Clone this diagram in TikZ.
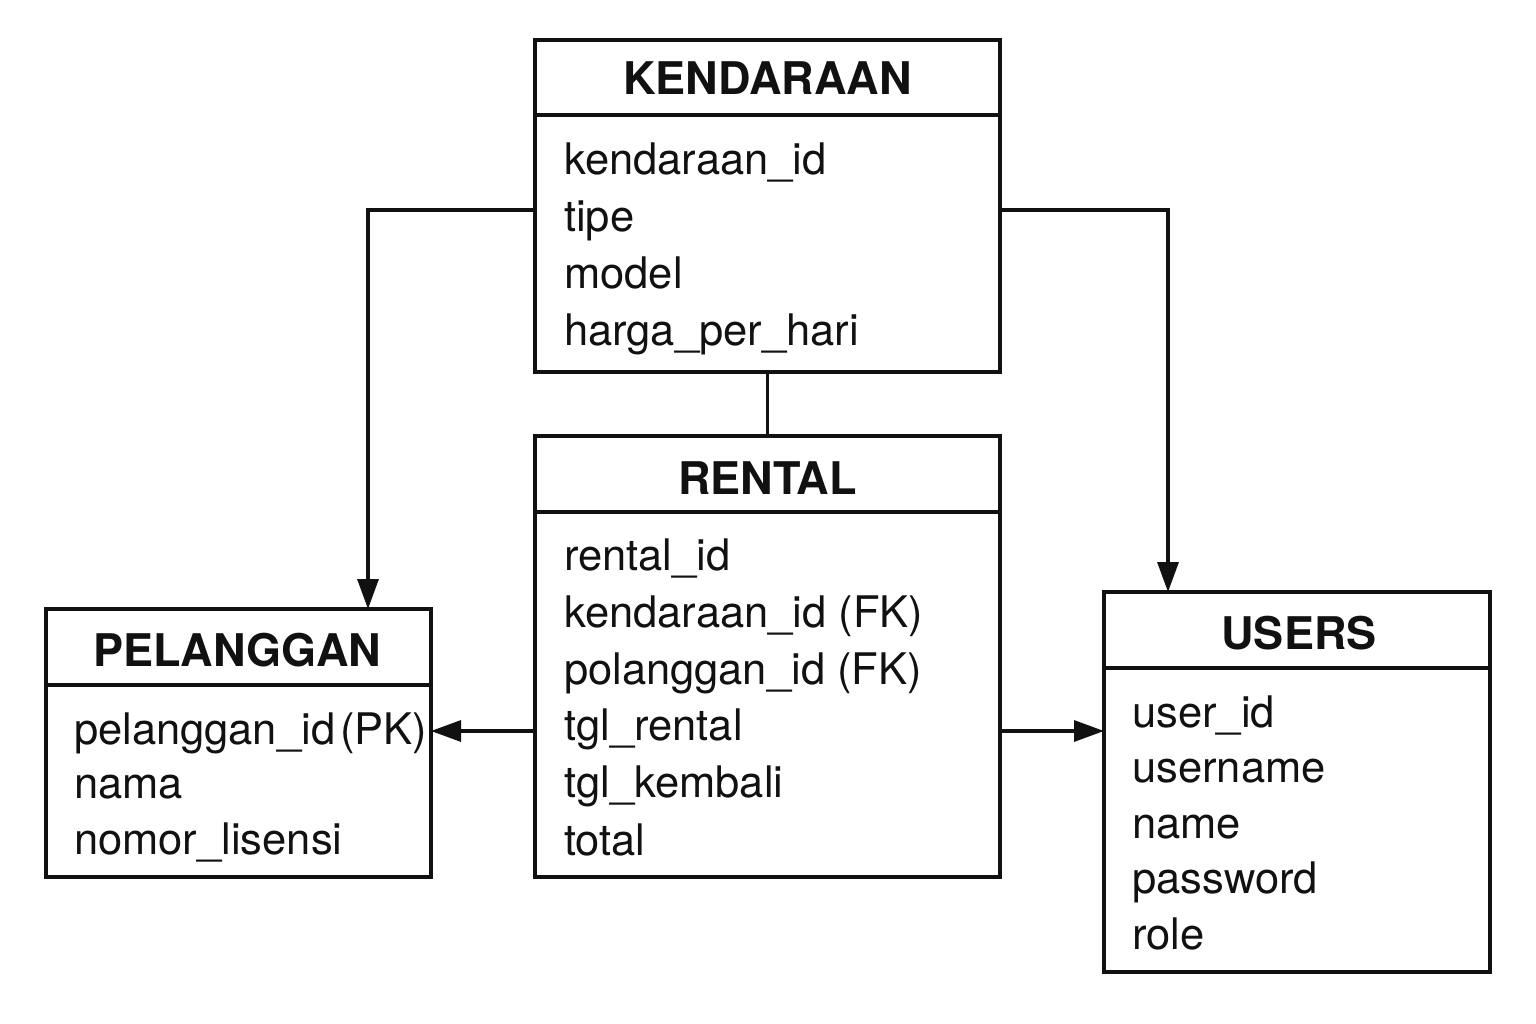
\documentclass[tikz,border=0pt]{standalone}
\usepackage{fontspec}
\setmainfont{TeX Gyre Heros}
\usetikzlibrary{arrows.meta}
\definecolor{ink}{HTML}{111111}
\begin{document}
\begin{tikzpicture}[x=1pt,y=-1pt,
  tbl/.style={draw=ink,line width=3.2pt,minimum width=#1,inner sep=0pt,outer sep=0pt,anchor=north west},
  ttl/.style={font=\fontsize{45}{50}\selectfont\bfseries,text=ink,anchor=base,inner sep=0pt},
  att/.style={font=\fontsize{43.5}{50}\selectfont,text=ink,anchor=base west,inner sep=0pt},
  conn/.style={draw=ink,line width=3.2pt},
  arr/.style={conn,-{Triangle[length=30pt,width=21pt]}}]
\useasboundingbox (0,0) rectangle (1536,1024);
\fill[white] (0,0) rectangle (1536,1024);

% KENDARAAN
\node[tbl=465pt,minimum height=332pt] (kend) at (535,40) {};
\draw[conn] (535,115) -- (1000,115);
\node[ttl] (kendT) at (767.5,95) {KENDARAAN};
\node[att] (k1) at (564,175) {kendaraan\_id};
\node[att] (k2) at (564,232) {tipe};
\node[att] (k3) at (564,289) {model};
\node[att] (k4) at (564,345) {harga\_per\_hari};

% RENTAL
\node[tbl=465pt,minimum height=441pt] (rent) at (535,436) {};
\draw[conn] (535,512) -- (1000,512);
\node[ttl] (rentT) at (767.5,494) {RENTAL};
\node[att] (r1) at (564,570) {rental\_id};
\node[att] (r2) at (564,627) {kendaraan\_id (FK)};
\node[att] (r3) at (564,684) {polanggan\_id (FK)};
\node[att] (r4) at (564,740) {tgl\_rental};
\node[att] (r5) at (564,797) {tgl\_kembali};
\node[att] (r6) at (564,855) {total};

% PELANGGAN
\node[tbl=385pt,minimum height=268pt] (pel) at (46,609) {};
\draw[conn] (46,685) -- (431,685);
\node[ttl] (pelT) at (237,666) {PELANGGAN};
\node[att] (p1) at (74,744) {pelanggan\_id\hspace{5pt}(PK)};
\node[att] (p2) at (74,798) {nama};
\node[att] (p3) at (74,854) {nomor\_lisensi};

% USERS
\node[tbl=386pt,minimum height=380pt] (usr) at (1104,592) {};
\draw[conn] (1104,668) -- (1490,668);
\node[ttl] (usrT) at (1299,649) {USERS};
\node[att] (u1) at (1132,727) {user\_id};
\node[att] (u2) at (1132,782) {username};
\node[att] (u3) at (1132,838) {name};
\node[att] (u4) at (1132,893) {password};
\node[att] (u5) at (1132,949) {role};

% connectors
\draw[arr] (kend.west |- 0,210) -| (pel.north -| 368,0);
\draw[arr] (kend.east |- 0,210) -| (usr.north -| 1168,0);
\draw[conn] (kend.south) -- (rent.north);
\draw[arr] (rent.west |- 0,731) -- (pel.east |- 0,731);
\draw[arr] (rent.east |- 0,731) -- (usr.west |- 0,731);
\end{tikzpicture}
\end{document}
